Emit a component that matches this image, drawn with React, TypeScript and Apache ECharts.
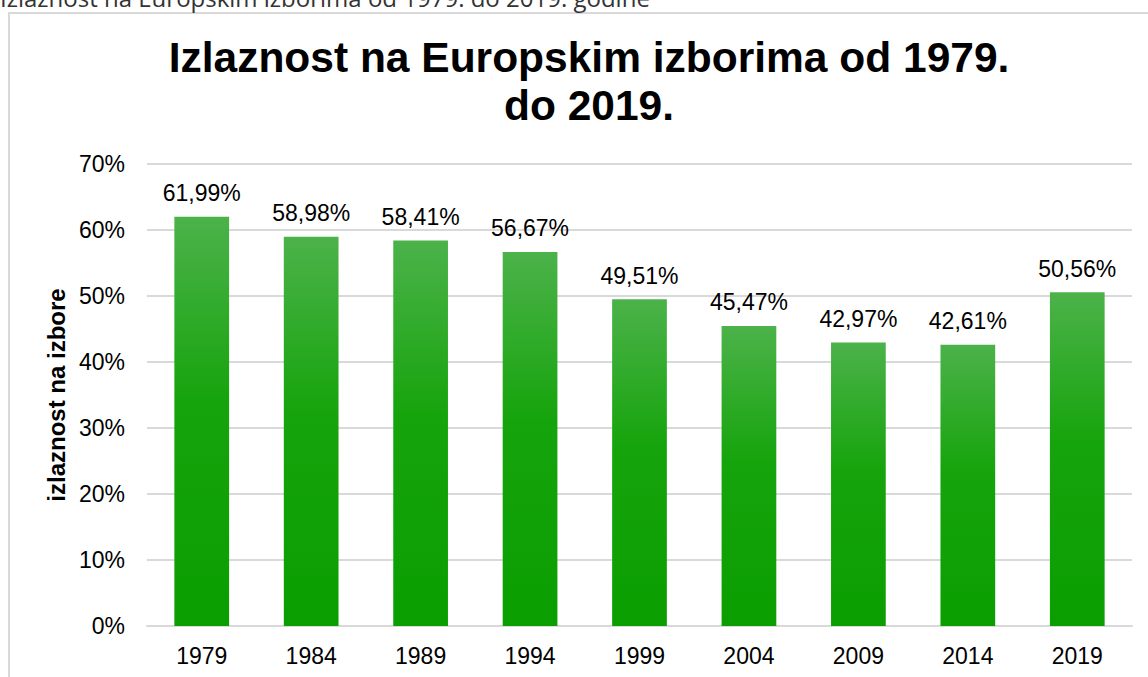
import React, { useEffect, useRef } from "react";
import * as echarts from "echarts";

const years = ["1979", "1984", "1989", "1994", "1999", "2004", "2009", "2014", "2019"];
const turnout = [61.99, 58.98, 58.41, 56.67, 49.51, 45.47, 42.97, 42.61, 50.56];
const yTicks = [0, 10, 20, 30, 40, 50, 60, 70];
const titleText = "Izlaznost na Europskim izborima od 1979.\ndo 2019.";
const headerText = "Izlaznost na Europskim izborima od 1979. do 2019. godine";
const yAxisName = "izlaznost na izbore";

export default function App() {
  const ref = useRef<HTMLDivElement>(null);
  useEffect(() => {
    if (!ref.current) return;
    const chart = echarts.init(ref.current, null, { renderer: "svg" });
    chart.setOption({
      animation: false,
      backgroundColor: "#ffffff",
      title: {
        text: titleText,
        left: 584,
        top: 28,
        textAlign: "center",
        textStyle: {
          fontFamily: "Liberation Sans, Arial, sans-serif",
          fontWeight: "bold",
          fontSize: 42.5,
          lineHeight: 48,
          color: "#000000",
        },
      },
      graphic: [
        {
          type: "rect",
          shape: { x: 9, y: 13, width: 1300, height: 800 },
          style: { fill: "none", stroke: "#d9d9d9", lineWidth: 2 },
          silent: true,
        },
        {
          type: "text",
          x: 0,
          y: -3,
          style: {
            text: headerText,
            fontFamily: "Open Sans, sans-serif",
            fontSize: 24,
            fill: "#333333",
            verticalAlign: "middle",
            align: "left",
          },
        },
      ],
      grid: { left: 147, right: 16, top: 164, bottom: 51, containLabel: false },
      xAxis: {
        type: "category",
        data: years,
        axisLine: { show: true, lineStyle: { color: "#d9d9d9", width: 2 } },
        axisTick: { show: false },
        axisLabel: {
          fontFamily: "Liberation Sans, Arial, sans-serif",
          fontSize: 23,
          color: "#000000",
          margin: 18,
        },
      },
      yAxis: {
        type: "value",
        min: 0,
        max: 70,
        interval: 10,
        name: yAxisName,
        nameLocation: "middle",
        nameGap: 75,
        nameRotate: 90,
        nameTextStyle: {
          fontFamily: "Liberation Sans, Arial, sans-serif",
          fontSize: 24,
          fontWeight: "bold",
          color: "#000000",
        },
        axisLine: { show: false },
        axisTick: { show: false },
        splitLine: { lineStyle: { color: "#d9d9d9", width: 2 } },
        axisLabel: {
          fontFamily: "Liberation Sans, Arial, sans-serif",
          fontSize: 23,
          color: "#000000",
          margin: 22,
          formatter: (v: number) => (yTicks.includes(v) ? v + "%" : ""),
        },
      },
      series: [
        {
          type: "bar",
          data: turnout,
          barWidth: "50%",
          itemStyle: {
            color: new echarts.graphic.LinearGradient(0, 0, 0, 1, [
              { offset: 0, color: "#4cb24a" },
              { offset: 0.45, color: "#16a40c" },
              { offset: 1, color: "#0a9e00" },
            ]),
          },
          label: {
            show: true,
            position: "top",
            distance: 12,
            fontFamily: "Liberation Sans, Arial, sans-serif",
            fontSize: 23,
            color: "#000000",
            formatter: (p: any) => p.value.toFixed(2).replace(".", ",") + "%",
          },
        },
      ],
    });
    return () => chart.dispose();
  }, []);
  return (
    <div
      ref={ref}
      style={{ position: "fixed", left: 0, top: 0, width: 1148, height: 677, overflow: "hidden" }}
    />
  );
}
